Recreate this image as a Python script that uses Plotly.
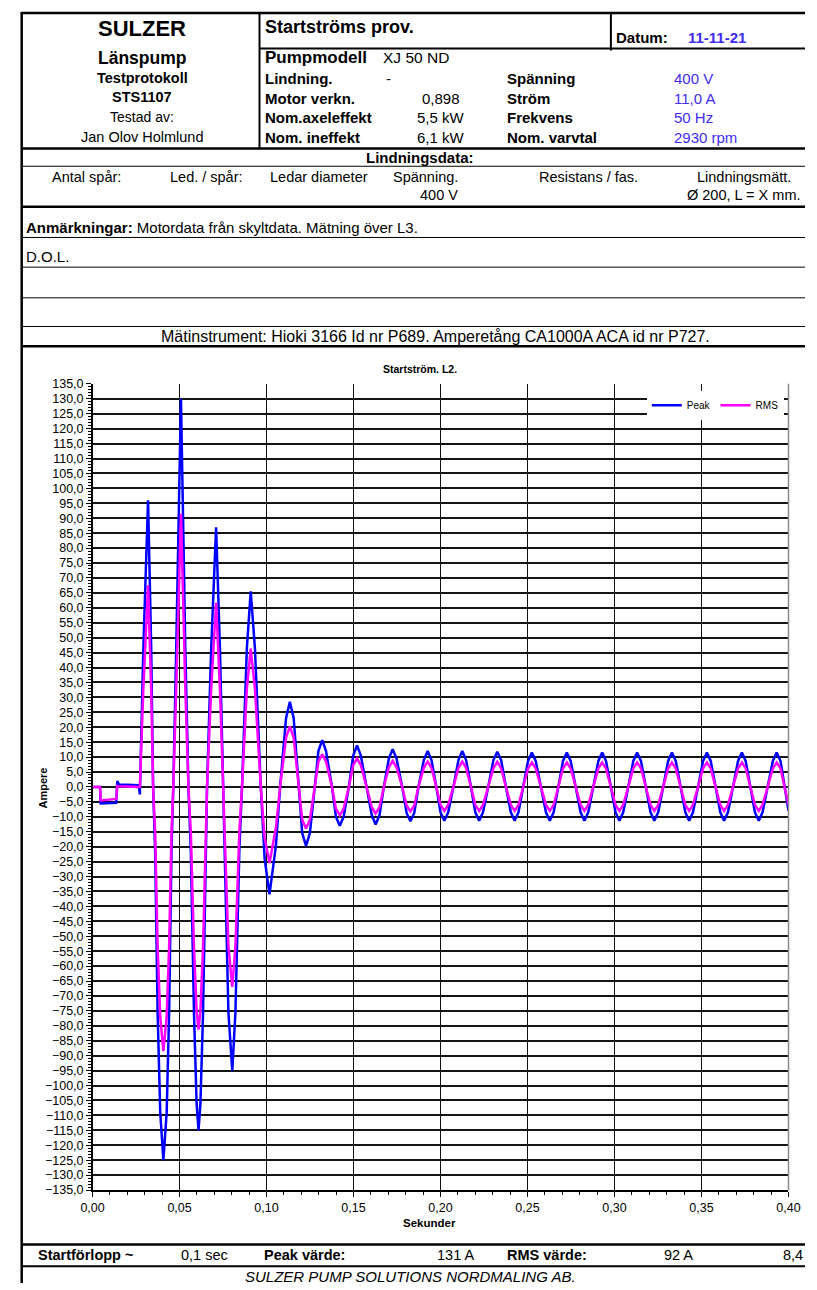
import plotly.graph_objects as go

# ---------------- data ----------------
TIME_S = [0.0000, 0.0043, 0.0047, 0.0136, 0.0142, 0.0152, 0.0265, 0.0272,
          0.0292, 0.0319, 0.0337, 0.0348, 0.0360, 0.0374, 0.0389, 0.0407, 0.0426, 0.0440, 0.0454, 0.0464,
          0.0481, 0.0496, 0.0508, 0.0520, 0.0533, 0.0551, 0.0565, 0.0583, 0.0598, 0.0609, 0.0620, 0.0635, 0.0658,
          0.0682, 0.0710, 0.0732, 0.0751, 0.0762, 0.0781, 0.0803, 0.0821, 0.0844, 0.0859,
          0.0887, 0.0909, 0.0933, 0.0967, 0.0989, 0.1017, 0.1054, 0.1078,
          0.1112, 0.1134, 0.1156, 0.1184, 0.1205, 0.1227, 0.1249, 0.1277,
          0.1298, 0.1320, 0.1342, 0.1376, 0.1399, 0.1421, 0.1443, 0.1473,
          0.1498, 0.1520, 0.1542, 0.1575, 0.1605, 0.1627, 0.1649, 0.1674,
          0.1703, 0.1725, 0.1747, 0.1780, 0.1805, 0.1827, 0.1849, 0.1873,
          0.1904, 0.1926, 0.1948, 0.1976, 0.2000, 0.2022, 0.2044, 0.2074,
          0.2103, 0.2125, 0.2147, 0.2175, 0.2200, 0.2222, 0.2244, 0.2274,
          0.2304, 0.2326, 0.2348, 0.2376, 0.2404, 0.2426, 0.2448, 0.2475,
          0.2503, 0.2525, 0.2547, 0.2577, 0.2606, 0.2628, 0.2650, 0.2677,
          0.2704, 0.2726, 0.2748, 0.2777, 0.2805, 0.2827, 0.2849, 0.2878,
          0.2907, 0.2929, 0.2951, 0.2979, 0.3006, 0.3028, 0.3050, 0.3079,
          0.3108, 0.3130, 0.3152, 0.3180, 0.3207, 0.3229, 0.3251, 0.3280,
          0.3308, 0.3330, 0.3352, 0.3380, 0.3407, 0.3429, 0.3451, 0.3480,
          0.3509, 0.3531, 0.3553, 0.3581, 0.3608, 0.3630, 0.3652, 0.3681,
          0.3710, 0.3732, 0.3754, 0.3781, 0.3807, 0.3829, 0.3851, 0.3880,
          0.3910, 0.3932, 0.3954, 0.4000]

PEAK_A = [0.0, 0.0, -5.5, -5.3, 2.0, 0.8, 0.6, -2.5,
          46.6, 96.0, 46.6, 0.0, -22.0, -75.7, -109.0, -125.0, -109.0, -75.7, -20.5, 0.0,
          46.6, 91.0, 130.0, 91.0, 46.6, 0.0, -22.0, -75.7, -106.0, -115.0, -106.0, -75.7, 0.0,
          46.6, 87.0, 46.6, 0.0, -20.5, -75.7, -95.0, -75.7, -20.5, 0.0,
          46.6, 65.5, 46.6, 0.0, -24.0, -36.0, -19.6, 0.0,
          23.0, 28.5, 23.0, 0.0, -15.5, -19.7, -15.5, 0.0,
          12.0, 15.7, 12.0, 0.0, -10.0, -13.0, -10.0, 0.0,
          10.5, 13.9, 10.5, 0.0, -9.5, -12.6, -9.5, 0.0,
          9.5, 12.6, 9.5, 0.0, -8.7, -11.5, -8.7, 0.0,
          9.0, 12.0, 9.0, 0.0, -8.5, -11.3, -8.5, 0.0,
          9.0, 12.0, 9.0, 0.0, -8.5, -11.3, -8.5, 0.0,
          9.0, 11.8, 9.0, 0.0, -8.5, -11.3, -8.5, 0.0,
          8.7, 11.5, 8.7, 0.0, -8.5, -11.3, -8.5, 0.0,
          8.7, 11.5, 8.7, 0.0, -8.5, -11.3, -8.5, 0.0,
          8.7, 11.5, 8.7, 0.0, -8.5, -11.3, -8.5, 0.0,
          8.7, 11.5, 8.7, 0.0, -8.5, -11.3, -8.5, 0.0,
          8.7, 11.5, 8.7, 0.0, -8.5, -11.3, -8.5, 0.0,
          8.7, 11.5, 8.7, 0.0, -8.5, -11.3, -8.5, 0.0,
          8.7, 11.5, 8.7, 0.0, -8.5, -11.3, -8.5, 0.0,
          8.7, 11.5, 8.7, -8.0]

RMS_A = [0.0, 0.0, -4.5, -4.0, 0.3, 0.2, 0.0, 0.0,
         33.0, 67.5, 32.5, 0.0, -15.5, -53.5, -77.0, -88.5, -77.0, -53.5, -14.5, 0.0,
         33.0, 64.0, 91.5, 64.5, 33.0, 0.0, -15.5, -53.5, -75.0, -81.3, -75.0, -53.5, 0.0,
         33.0, 61.7, 33.0, 0.0, -14.5, -53.5, -67.0, -53.5, -14.5, 0.0,
         33.0, 46.3, 33.0, 0.0, -17.0, -25.5, -13.5, 0.0,
         16.5, 20.3, 16.5, 0.0, -11.0, -13.9, -11.0, 0.0,
         8.5, 10.9, 8.5, 0.0, -7.3, -9.5, -7.3, 0.0,
         7.3, 9.5, 7.3, 0.0, -6.8, -8.9, -6.8, 0.0,
         6.6, 8.7, 6.6, 0.0, -6.2, -8.2, -6.2, 0.0,
         6.4, 8.5, 6.4, 0.0, -6.0, -8.0, -6.0, 0.0,
         6.4, 8.5, 6.4, 0.0, -6.0, -8.0, -6.0, 0.0,
         6.3, 8.4, 6.3, 0.0, -6.0, -8.0, -6.0, 0.0,
         6.2, 8.2, 6.2, 0.0, -6.0, -8.0, -6.0, 0.0,
         6.2, 8.2, 6.2, 0.0, -6.0, -8.0, -6.0, 0.0,
         6.2, 8.2, 6.2, 0.0, -6.0, -8.0, -6.0, 0.0,
         6.2, 8.2, 6.2, 0.0, -6.0, -8.0, -6.0, 0.0,
         6.2, 8.2, 6.2, 0.0, -6.0, -8.0, -6.0, 0.0,
         6.2, 8.2, 6.2, 0.0, -6.0, -8.0, -6.0, 0.0,
         6.2, 8.2, 6.2, 0.0, -6.0, -8.0, -6.0, 0.0,
         6.2, 8.2, 6.2, -6.0]

SERIES_NAMES = ["Peak", "RMS"]
X_TICKS = [0.00, 0.05, 0.10, 0.15, 0.20, 0.25, 0.30, 0.35, 0.40]
X_TICK_LABELS = ["0,00", "0,05", "0,10", "0,15", "0,20", "0,25", "0,30", "0,35", "0,40"]
Y_RANGE = [-135, 135]

assert len(TIME_S) == len(PEAK_A) == len(RMS_A)

# ---------------- layout helpers ----------------
W, H = 817, 1290
FONT = "Liberation Sans, Arial, sans-serif"
BLUE_TXT = "#3f2cf2"


def px(x):
    return x / W


def py(y):
    return 1 - y / H


shapes = []


def hline(y, x0=10, x1=817, w=1.0):
    shapes.append(dict(type="line", xref="paper", yref="paper", x0=px(x0), x1=px(x1),
                       y0=py(y), y1=py(y), line=dict(color="black", width=w), layer="above"))


def vline(x, y0, y1, w=1.0, color="black"):
    shapes.append(dict(type="line", xref="paper", yref="paper", x0=px(x), x1=px(x),
                       y0=py(y0), y1=py(y1), line=dict(color=color, width=w), layer="above"))


annotations = []


def text(s, x, y, size=15, bold=False, color="black", anchor="left", italic=False, angle=0):
    if bold:
        s = "<b>" + s + "</b>"
    if italic:
        s = "<i>" + s + "</i>"
    annotations.append(dict(text=s, x=px(x), y=py(y), xref="paper", yref="paper",
                            xanchor=anchor, yanchor="middle", showarrow=False, textangle=angle,
                            font=dict(family=FONT, size=size, color=color)))


# table lines
hline(6, 10, 817, 2.5)
vline(10, 5, 1290, 2.5)
vline(255, 5, 143, 2)
hline(42, 255, 817, 2)
vline(617, 5, 44, 2)
hline(143, 10, 817, 2.5)
hline(161, 10, 817, 1)
hline(202, 10, 817, 2.5)
hline(233, 10, 817, 1)
hline(263, 10, 817, 1)
hline(294, 10, 817, 1)
hline(323, 10, 817, 1)
hline(343, 10, 817, 2.5)
hline(1251, 10, 817, 2.5)
hline(1273, 10, 817, 2)
# right plot border (grey)
vline(800, 381, 1196, 1.5, "#8a8a8a")

# header texts
text("SULZER", 134, 22, 22, bold=True, anchor="center")
text("Länspump", 134, 52, 17.5, bold=True, anchor="center")
text("Testprotokoll", 134, 72, 14.5, bold=True, anchor="center")
text("STS1107", 134, 91, 14.5, bold=True, anchor="center")
text("Testad av:", 134, 111, 14, anchor="center")
text("Jan Olov Holmlund", 134, 131, 14.5, anchor="center")

text("Startströms prov.", 259, 20, 18, bold=True)
text("Datum:", 620, 31, 15, bold=True)
text("11-11-21", 694, 31, 15, bold=True, color=BLUE_TXT)

text("Pumpmodell", 259, 51, 17, bold=True)
text("XJ 50 ND", 380, 51, 15.5)
text("Lindning.", 259, 72, 15, bold=True)
text("-", 383, 72, 15)
text("Motor verkn.", 259, 92, 15, bold=True)
text("0,898", 442, 92, 15, anchor="center")
text("Nom.axeleffekt", 259, 112, 15, bold=True)
text("5,5 kW", 442, 112, 15, anchor="center")
text("Nom. ineffekt", 259, 132, 15, bold=True)
text("6,1 kW", 442, 132, 15, anchor="center")

text("Spänning", 508, 72, 15, bold=True)
text("Ström", 508, 92, 15, bold=True)
text("Frekvens", 508, 112, 15, bold=True)
text("Nom. varvtal", 508, 132, 15, bold=True)
text("400 V", 680, 72, 15, color=BLUE_TXT)
text("11,0 A", 680, 92, 15, color=BLUE_TXT)
text("50 Hz", 680, 112, 15, color=BLUE_TXT)
text("2930 rpm", 680, 132, 15, color=BLUE_TXT)

text("Lindningsdata:", 420, 152, 15, bold=True, anchor="center")
text("Antal spår:", 77, 172, 14.5, anchor="center")
text("Led. / spår:", 200, 172, 14.5, anchor="center")
text("Ledar diameter", 316, 172, 14.5, anchor="center")
text("Spänning.", 462, 172, 14.5, anchor="right")
text("400 V", 462, 190, 14.5, anchor="right")
text("Resistans / fas.", 594, 172, 14.5, anchor="center")
text("Lindningsmätt.", 754, 172, 14.5, anchor="center")
text("Ø 200, L = X mm.", 754, 190, 14.5, anchor="center")

text("<b>Anmärkningar:</b> Motordata från skyltdata. Mätning över L3.", 12, 223, 15)
text("D.O.L.", 12, 252, 15)
text("Mätinstrument: Hioki 3166 Id nr P689. Amperetång CA1000A ACA id nr P727.", 436, 333, 16,
     anchor="center")

# chart texts
text("Startström. L2.", 420, 366, 10.5, bold=True, anchor="center")
text("Ampere", 32, 790, 11, bold=True, anchor="center", angle=-90)
text("Sekunder", 430, 1229, 11.5, bold=True, anchor="center")

# bottom row
text("Startförlopp ~", 25, 1262, 14.5, bold=True)
text("0,1 sec", 172, 1262, 14.5)
text("Peak värde:", 258, 1262, 14.5, bold=True)
text("131 A", 478, 1262, 14.5, anchor="right")
text("RMS värde:", 508, 1262, 14.5, bold=True)
text("92 A", 704, 1262, 14.5, anchor="right")
text("8,4", 817, 1262, 14.5, anchor="right")
text("SULZER PUMP SOLUTIONS NORDMALING AB.", 411, 1283, 15, italic=True, anchor="center")

# ---------------- figure ----------------
fig = go.Figure()
fig.add_trace(go.Scatter(x=TIME_S, y=PEAK_A, name=SERIES_NAMES[0], mode="lines",
                         line=dict(color="#0000ff", width=2.5)))
fig.add_trace(go.Scatter(x=TIME_S, y=RMS_A, name=SERIES_NAMES[1], mode="lines",
                         line=dict(color="#ff00ff", width=2.5)))

fig.update_layout(
    width=W, height=H,
    margin=dict(l=0, r=0, t=0, b=0),
    paper_bgcolor="white", plot_bgcolor="white",
    separators=", ",
    font=dict(family=FONT, color="black"),
    showlegend=True,
    legend=dict(x=px(654), y=py(388), xanchor="left", yanchor="top", orientation="h",
                bgcolor="white", borderwidth=0, font=dict(family=FONT, size=10, color="black"),
                itemwidth=30, tracegroupgap=0),
    xaxis=dict(domain=[px(83), px(800)], range=[0, 0.4], tickmode="array",
               tickvals=X_TICKS, ticktext=X_TICK_LABELS,
               showgrid=True, gridcolor="#111111", gridwidth=1.6, zeroline=False,
               showline=True, linecolor="black", linewidth=1.5,
               ticks="outside", ticklen=5, tickwidth=1, tickcolor="black",
               tickfont=dict(family=FONT, size=12.5, color="black"),
               minor=dict(tickmode="linear", tick0=0, dtick=0.01, ticks="outside", ticklen=3,
                          tickcolor="black", showgrid=False)),
    yaxis=dict(domain=[py(1196), py(381)], range=Y_RANGE, tickmode="linear", tick0=-135, dtick=5,
               tickformat=".1f", showgrid=True, gridcolor="#151515", gridwidth=2, zeroline=False,
               showline=True, linecolor="black", linewidth=1.5,
               ticks="outside", ticklen=5, tickwidth=1, tickcolor="black",
               tickfont=dict(family=FONT, size=12.5, color="black"),
               minor=dict(tickmode="linear", tick0=0, dtick=1, ticks="outside", ticklen=3,
                          tickcolor="black", showgrid=False)),
    shapes=shapes,
    annotations=annotations,
)

fig.write_html("out.html",
               config={"displayModeBar": False, "staticPlot": True},
               post_script="document.body.style.margin='0px';document.body.style.overflow='hidden';")
